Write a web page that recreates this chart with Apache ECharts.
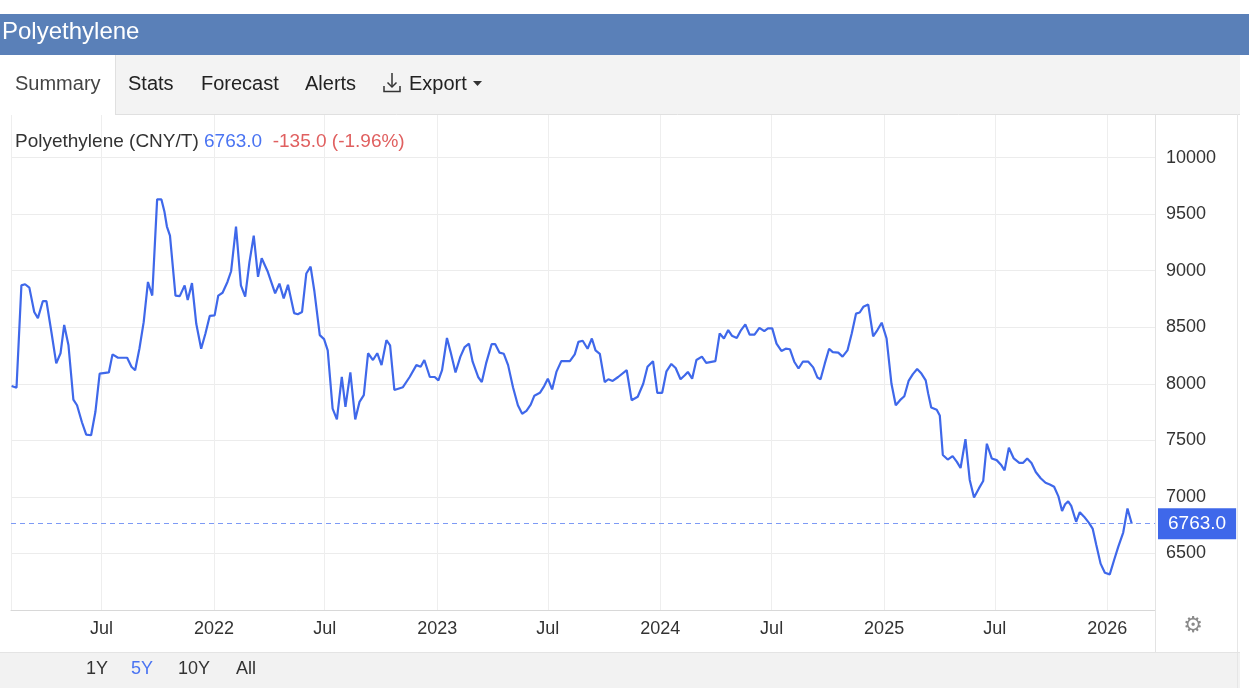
<!DOCTYPE html>
<html>
<head>
<meta charset="utf-8">
<script src="https://cdn.jsdelivr.net/npm/echarts@6/dist/echarts.min.js"></script>
<style>
html,body{margin:0;padding:0;background:#ffffff;}
#chart{width:1249px;height:691px;}
</style>
</head>
<body>
<div id="chart"></div>
<script>
// ---------------- DATA ----------------
const seriesName = 'Polyethylene (CNY/T)';
const dates = [
'2021-02-04','2021-02-12','2021-02-20','2021-02-26','2021-03-05','2021-03-13','2021-03-19','2021-03-27','2021-04-02','2021-04-10',
'2021-04-18','2021-04-25','2021-05-01','2021-05-08','2021-05-16','2021-05-22','2021-05-30','2021-06-06','2021-06-14','2021-06-21',
'2021-06-28','2021-07-13','2021-07-19','2021-07-28','2021-08-12','2021-08-19','2021-08-25','2021-09-01','2021-09-08','2021-09-15',
'2021-09-22','2021-09-30','2021-10-07','2021-10-12','2021-10-16','2021-10-21','2021-10-30','2021-11-06','2021-11-14','2021-11-19',
'2021-11-26','2021-12-03','2021-12-11','2021-12-18','2021-12-25','2022-01-02','2022-01-08','2022-01-15','2022-01-23','2022-01-29',
'2022-02-06','2022-02-14','2022-02-21','2022-02-28','2022-03-07','2022-03-14','2022-03-20','2022-03-30','2022-04-11','2022-04-18',
'2022-04-25','2022-05-02','2022-05-12','2022-05-18','2022-05-25','2022-06-01','2022-06-08','2022-06-14','2022-06-23','2022-06-30',
'2022-07-06','2022-07-14','2022-07-21','2022-07-29','2022-08-04','2022-08-12','2022-08-20','2022-08-27','2022-09-03','2022-09-10',
'2022-09-18','2022-09-25','2022-10-02','2022-10-10','2022-10-16','2022-10-23','2022-11-06','2022-11-17','2022-11-28','2022-12-05',
'2022-12-11','2022-12-20','2022-12-28','2023-01-03','2023-01-09','2023-01-17','2023-01-23','2023-01-31','2023-02-08','2023-02-15',
'2023-02-22','2023-02-28','2023-03-09','2023-03-15','2023-03-22','2023-03-31','2023-04-06','2023-04-13','2023-04-20','2023-04-27',
'2023-05-05','2023-05-13','2023-05-20','2023-05-27','2023-06-03','2023-06-09','2023-06-18','2023-06-25','2023-07-01','2023-07-08',
'2023-07-15','2023-07-23','2023-08-06','2023-08-14','2023-08-20','2023-08-27','2023-09-04','2023-09-11','2023-09-17','2023-09-24',
'2023-10-02','2023-10-08','2023-10-15','2023-10-24','2023-11-07','2023-11-15','2023-11-25','2023-12-04','2023-12-11','2023-12-20',
'2023-12-27','2024-01-04','2024-01-11','2024-01-19','2024-01-26','2024-02-03','2024-02-10','2024-02-15','2024-02-22','2024-02-29',
'2024-03-09','2024-03-16','2024-03-31','2024-04-07','2024-04-14','2024-04-21','2024-04-27','2024-05-05','2024-05-12','2024-05-19',
'2024-05-26','2024-06-03','2024-06-11','2024-06-19','2024-06-25','2024-07-02','2024-07-09','2024-07-17','2024-07-24','2024-07-31',
'2024-08-07','2024-08-14','2024-08-21','2024-08-30','2024-09-07','2024-09-14','2024-09-19','2024-09-26','2024-10-03','2024-10-09',
'2024-10-18','2024-10-25','2024-11-02','2024-11-09','2024-11-16','2024-11-22','2024-11-28','2024-12-06','2024-12-14','2024-12-21',
'2024-12-28','2025-01-05','2025-01-13','2025-01-20','2025-01-27','2025-02-03','2025-02-10','2025-02-17','2025-02-24','2025-03-03',
'2025-03-10','2025-03-14','2025-03-19','2025-03-28','2025-04-02','2025-04-07','2025-04-15','2025-04-23','2025-04-30','2025-05-06',
'2025-05-14','2025-05-21','2025-05-28','2025-06-05','2025-06-12','2025-06-18','2025-06-26','2025-07-04','2025-07-11','2025-07-17',
'2025-07-24','2025-08-01','2025-08-10','2025-08-16','2025-08-23','2025-08-30','2025-09-06','2025-09-14','2025-09-22','2025-09-29',
'2025-10-06','2025-10-13','2025-10-19','2025-10-24','2025-10-29','2025-11-03','2025-11-11','2025-11-17','2025-11-24','2025-12-02',
'2025-12-08','2025-12-14','2025-12-21','2025-12-28','2026-01-05','2026-01-12','2026-01-19','2026-01-27','2026-02-03','2026-02-10'
];
const values = [
7980,7965,8870,8880,8850,8635,8580,8730,8730,8460,
8180,8270,8520,8340,7860,7810,7660,7550,7545,7750,
8090,8100,8260,8230,8230,8150,8120,8310,8545,8900,
8780,9630,9630,9520,9390,9310,8780,8775,8870,8740,
8890,8530,8310,8445,8600,8605,8780,8805,8900,8995,
9390,8870,8770,9075,9310,8945,9110,8990,8800,8885,
8755,8875,8625,8615,8635,8975,9035,8825,8430,8395,
8295,7780,7685,8060,7795,8100,7685,7840,7900,8270,
8210,8270,8165,8385,8340,7945,7970,8060,8165,8150,
8210,8060,8060,8030,8120,8405,8280,8100,8240,8325,
8355,8195,8060,8015,8180,8350,8350,8275,8265,8165,
7970,7810,7735,7760,7815,7895,7920,7980,8045,7950,
8105,8200,8200,8260,8370,8380,8310,8400,8295,8265,
8015,8040,8025,8060,8120,7855,7885,8000,8150,8200,
7920,7920,8110,8175,8140,8040,8075,8105,8045,8210,
8240,8185,8200,8445,8400,8475,8425,8405,8475,8525,
8435,8435,8495,8465,8490,8490,8355,8290,8310,8305,
8195,8135,8195,8195,8145,8055,8040,8180,8310,8280,
8275,8240,8295,8445,8620,8630,8680,8700,8420,8475,
8540,8400,8000,7810,7855,7890,8025,8085,8130,8090,
8030,7915,7790,7770,7720,7370,7330,7360,7310,7255,
7510,7150,6995,7075,7140,7470,7340,7325,7285,7235,
7435,7340,7300,7300,7340,7300,7220,7165,7125,7110,
7090,7005,6875,6935,6960,6920,6780,6865,6825,6770,
6720,6575,6410,6330,6315,6440,6560,6685,6898,6763
];
const monthNames = ['Jan','Feb','Mar','Apr','May','Jun','Jul','Aug','Sep','Oct','Nov','Dec'];
const xAxisStart = '2021-02-03T00:00:00';
const xAxisEnd = '2026-03-20T00:00:00';
const yMin = 6000, yMax = 10500, yStep = 500;
const tabLabels = ['Summary','Stats','Forecast','Alerts','Export'];
const rangeLabels = ['1Y','5Y','10Y','All'];

// ---------------- DERIVED ----------------
const lastValue = values[values.length - 1];
const prevValue = values[values.length - 2];
const change = lastValue - prevValue;
const changePct = change / prevValue * 100;
const seriesData = dates.map((d, i) => [d, values[i]]);

const FONT = '"Liberation Sans", Arial, Helvetica, sans-serif';
const LINE_BLUE = '#3f68ea';

const chart = echarts.init(document.getElementById('chart'), null, {renderer: 'canvas'});

const txt = (x, y, text, size, color, extra) => ({
  type: 'text', z: 110, silent: true,
  style: Object.assign({x: x, y: y, text: text, fontSize: size, fill: color,
    fontFamily: FONT, verticalAlign: 'middle', align: 'left'}, extra || {})
});

const option = {
  animation: false,
  backgroundColor: '#ffffff',
  textStyle: {fontFamily: FONT},
  title: {
    left: 10, top: 127,
    text: '{a|' + seriesName + '} {b|' + lastValue.toFixed(1) + '}  {c|' +
          change.toFixed(1) + ' (' + changePct.toFixed(2) + '%)}',
    textStyle: {
      fontSize: 19, fontWeight: 'normal', fontFamily: FONT,
      rich: {
        a: {fontSize: 19, color: '#333333', fontFamily: FONT},
        b: {fontSize: 19, color: '#4a74f2', fontFamily: FONT},
        c: {fontSize: 19, color: '#e06060', fontFamily: FONT}
      }
    }
  },
  grid: {left: 11, right: 94, top: 101, bottom: 81, containLabel: false},
  xAxis: {
    type: 'time',
    min: new Date(xAxisStart).getTime(),
    max: new Date(xAxisEnd).getTime(),
    splitNumber: 10,
    minInterval: 180 * 86400000,
    maxInterval: 184 * 86400000,
    axisLine: {show: true, lineStyle: {color: '#d8d8d8', width: 1}},
    axisTick: {show: false},
    axisLabel: {
      fontSize: 18, color: '#333333', fontFamily: FONT, margin: 10,
      formatter: function (val) {
        const d = new Date(val);
        if (d.getDate() !== 1) return '';
        const m = d.getMonth();
        if (m === 0) return String(d.getFullYear());
        if (m === 6) return monthNames[m];
        return '';
      }
    },
    splitLine: {show: true, lineStyle: {color: '#eeeeee', width: 1}}
  },
  yAxis: {
    type: 'value',
    position: 'right',
    min: yMin, max: yMax, interval: yStep,
    axisLine: {show: true, lineStyle: {color: '#e3e3e3', width: 1}},
    axisTick: {show: false},
    axisLabel: {
      fontSize: 18, color: '#333333', fontFamily: FONT, margin: 11, align: 'left',
      formatter: function (v) { return (v === yMin || v === yMax) ? '' : String(v); }
    },
    splitLine: {show: true, lineStyle: {color: '#ececec', width: 1}}
  },
  series: [{
    type: 'line',
    name: seriesName,
    data: seriesData,
    showSymbol: false,
    symbol: 'none',
    smooth: false,
    lineStyle: {color: LINE_BLUE, width: 2.2},
    itemStyle: {color: LINE_BLUE},
    z: 3,
    markLine: {
      silent: true,
      symbol: 'none',
      animation: false,
      lineStyle: {type: [5, 4], color: '#7d9af5', width: 1},
      label: {
        show: true, position: 'end', distance: 3,
        formatter: function () { return lastValue.toFixed(1); },
        backgroundColor: '#3f68ea', color: '#ffffff',
        fontSize: 19, fontFamily: FONT, padding: [6, 10, 6, 10]
      },
      data: [{yAxis: lastValue}]
    }
  }],
  graphic: [
    // header bar
    {type: 'rect', z: 100, silent: true, shape: {x: 0, y: 14, width: 1249, height: 41}, style: {fill: '#5a80b8'}},
    txt(2, 32, 'Polyethylene', 24, '#ffffff'),
    // tab row
    {type: 'rect', z: 100, silent: true, shape: {x: 0, y: 55, width: 1240, height: 59}, style: {fill: '#f3f3f3'}},
    {type: 'rect', z: 101, silent: true, shape: {x: 0, y: 55, width: 115, height: 60}, style: {fill: '#ffffff'}},
    {type: 'line', z: 101, silent: true, shape: {x1: 115, y1: 114.5, x2: 1240, y2: 114.5}, style: {stroke: '#e0e0e0', lineWidth: 1}},
    {type: 'line', z: 101, silent: true, shape: {x1: 115.5, y1: 55, x2: 115.5, y2: 114}, style: {stroke: '#e0e0e0', lineWidth: 1}},
    txt(15, 84, tabLabels[0], 20, '#444444'),
    txt(128, 84, tabLabels[1], 20, '#222222'),
    txt(201, 84, tabLabels[2], 20, '#222222'),
    txt(305, 84, tabLabels[3], 20, '#222222'),
    txt(409, 84, tabLabels[4], 20, '#222222'),
    // export icon
    {type: 'line', z: 110, silent: true, shape: {x1: 392, y1: 73, x2: 392, y2: 87}, style: {stroke: '#333333', lineWidth: 1.5}},
    {type: 'polyline', z: 110, silent: true, shape: {points: [[387.5, 82.5], [392, 87], [396.5, 82.5]]}, style: {stroke: '#333333', lineWidth: 1.5, fill: null}},
    {type: 'polyline', z: 110, silent: true, shape: {points: [[384, 86], [384, 91.5], [400, 91.5], [400, 86]]}, style: {stroke: '#333333', lineWidth: 1.5, fill: null}},
    {type: 'polygon', z: 110, silent: true, shape: {points: [[473, 81], [482, 81], [477.5, 86]]}, style: {fill: '#333333'}},
    // right panel border
    {type: 'line', z: 101, silent: true, shape: {x1: 1237.5, y1: 114, x2: 1237.5, y2: 688}, style: {stroke: '#e6e6e6', lineWidth: 1}},
    // axis separator extension below the plot
    {type: 'line', z: 101, silent: true, shape: {x1: 1155.5, y1: 610, x2: 1155.5, y2: 652}, style: {stroke: '#e3e3e3', lineWidth: 1}},
    // gear icon
    txt(1193, 626, '\u2699', 22, '#8a8a8a', {align: 'center', fontFamily: '"DejaVu Sans", sans-serif'}),
    // bottom range bar
    {type: 'rect', z: 100, silent: true, shape: {x: 0, y: 652, width: 1240, height: 36}, style: {fill: '#f2f2f2'}},
    {type: 'line', z: 101, silent: true, shape: {x1: 0, y1: 652.5, x2: 1240, y2: 652.5}, style: {stroke: '#e4e4e4', lineWidth: 1}},
    txt(86, 669, rangeLabels[0], 18, '#333333'),
    txt(131, 669, rangeLabels[1], 18, '#4a74f2'),
    txt(178, 669, rangeLabels[2], 18, '#333333'),
    txt(236, 669, rangeLabels[3], 18, '#333333')
  ]
};

chart.setOption(option);
</script>
</body>
</html>
